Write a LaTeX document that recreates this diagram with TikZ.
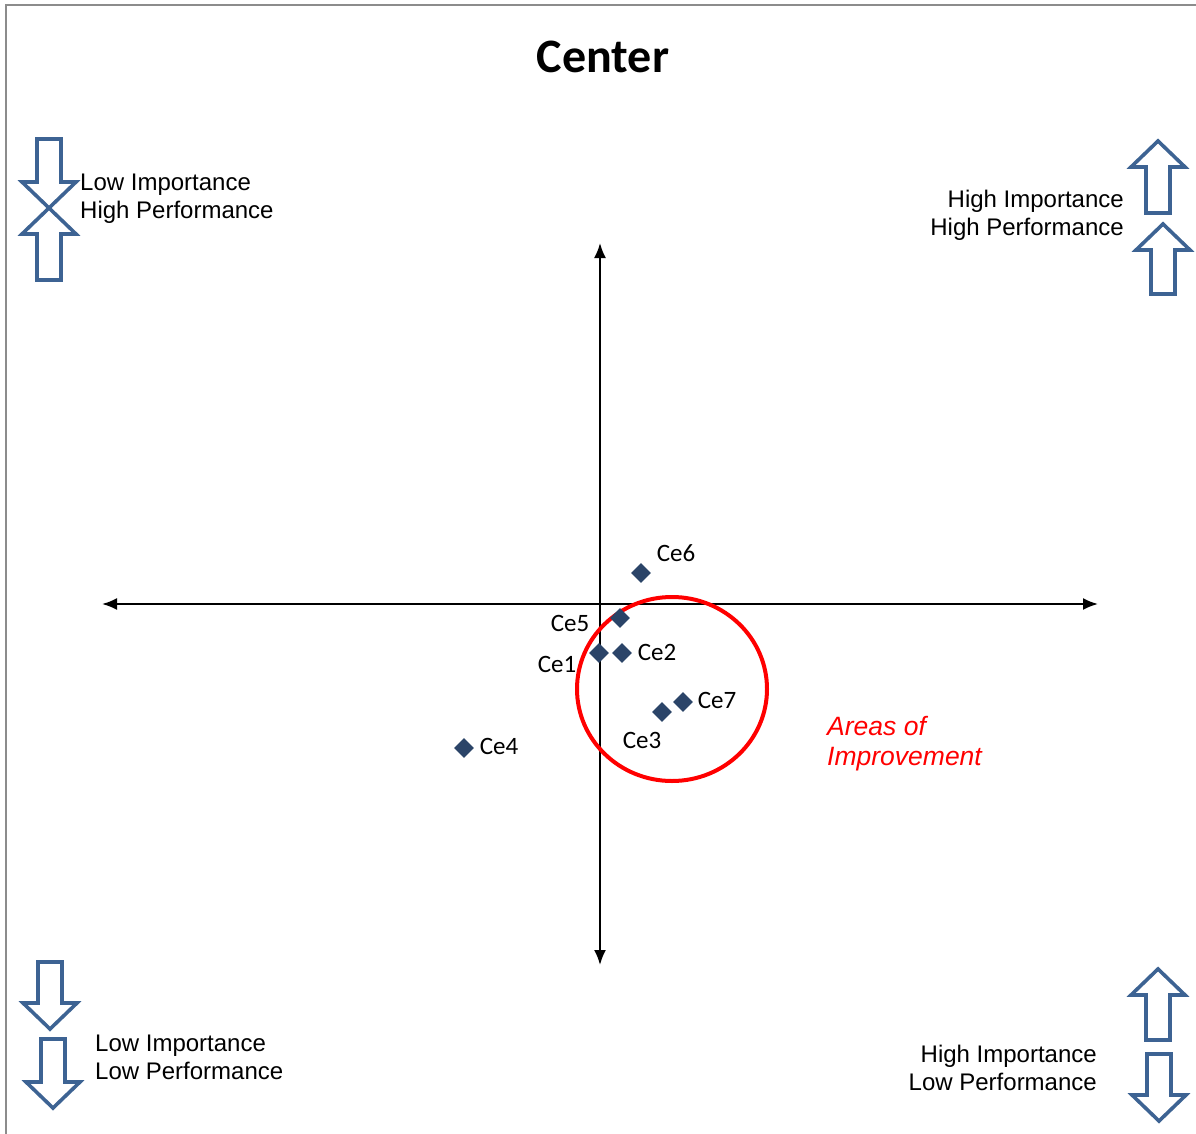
\documentclass[tikz,border=0pt]{standalone}
\usepackage{fontspec}
\setmainfont{Liberation Sans}
\newfontfamily\calfont{Carlito}
\usetikzlibrary{shapes.geometric,arrows.meta}
\definecolor{blkblue}{HTML}{3D6393}
\definecolor{ptblue}{HTML}{2B4468}
\definecolor{bordergray}{HTML}{8C8C8C}
\tikzset{
  blk/.style={draw=blkblue,line width=3.6pt,fill=white,line join=miter},
  pt/.style={diamond,fill=ptblue,minimum size=20pt,inner sep=0pt},
  ptlabel/.style={font=\calfont\fontsize{25}{30}\selectfont,inner sep=0pt},
  quad/.style={font=\fontsize{24}{28}\selectfont,inner sep=0pt},
  axis/.style={line width=2pt,{Latex[length=15pt,width=12pt]}-{Latex[length=15pt,width=12pt]}},
}
\newcommand\myblockarrow[3]{% x, tail y, tip y
  \pgfmathsetmacro\hb{#3+26*(#2-#3)/abs(#2-#3)}%
  \draw[blk] ({#1-12},#2) -- ({#1-12},\hb) -- ({#1-27},\hb) -- (#1,#3)
    -- ({#1+27},\hb) -- ({#1+12},\hb) -- ({#1+12},#2) -- cycle;}
\begin{document}
\begin{tikzpicture}[x=1pt,y=-1pt]
\useasboundingbox (0,0) rectangle (1196,1134);
% border
\draw[bordergray,line width=2pt] (6,1134) -- (6,5) -- (1196,5);
% title
\node[font=\calfont\bfseries\fontsize{48}{58}\selectfont] (title) at (603,57) {Center};
% axes
\coordinate (ytop) at (600,243);
\coordinate (ybot) at (600,965);
\coordinate (xl) at (102,604);
\coordinate (xr) at (1098,604);
\draw[axis] (ybot) -- (ytop);
\draw[axis] (xl) -- (xr);
% circle
\node[draw=red,line width=4pt,ellipse,minimum width=190pt,minimum height=184pt,inner sep=0pt] (circ) at (672,689) {};
% points
\node[pt] (ce6) at (641,573) {};
\node[pt] (ce5) at (620,618) {};
\node[pt] (ce1) at (599,653) {};
\node[pt] (ce2) at (622,653) {};
\node[pt] (ce7) at (683,702) {};
\node[pt] (ce3) at (662,712) {};
\node[pt] (ce4) at (464,748) {};
\node[ptlabel] (l6) at (676,553) {Ce6};
\node[ptlabel] (l5) at (570,623) {Ce5};
\node[ptlabel] (l1) at (557,664) {Ce1};
\node[ptlabel] (l2) at (657,652) {Ce2};
\node[ptlabel] (l7) at (717,700) {Ce7};
\node[ptlabel] (l3) at (642,740) {Ce3};
\node[ptlabel] (l4) at (499,746) {Ce4};
% areas of improvement
\node[font=\itshape\fontsize{26.5}{30}\selectfont,text=red,align=left,anchor=west,inner sep=0pt] (aoi) at (827,744) {Areas of\\Improvement};
% quadrant labels
\node[quad,align=left,anchor=west] (tl) at (80,199) {Low Importance\\High Performance};
\node[quad,align=right,anchor=east] (tr) at (1124,215) {High Importance\\High Performance};
\node[quad,align=left,anchor=west] (bl) at (95,1057) {Low Importance\\Low Performance};
\node[quad,align=right,anchor=east] (br) at (1097,1068) {High Importance\\Low Performance};
% block arrows
\myblockarrow{49}{139}{208}
\myblockarrow{49}{280}{208}
\myblockarrow{1158}{213}{141}
\myblockarrow{1163}{294}{224}
\myblockarrow{50}{962}{1029}
\myblockarrow{53}{1039}{1108}
\myblockarrow{1158}{1040}{969}
\myblockarrow{1159}{1054}{1121}
\end{tikzpicture}
\end{document}
